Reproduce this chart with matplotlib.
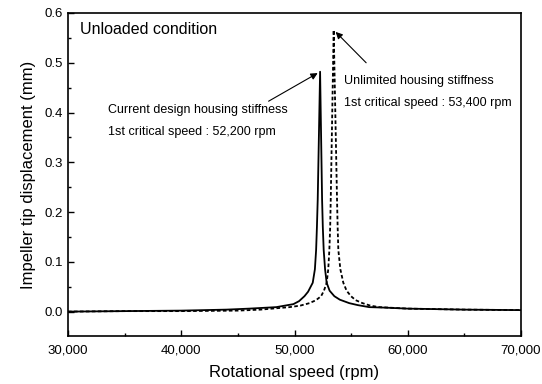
import matplotlib
matplotlib.use("Agg")
import matplotlib.pyplot as plt
from matplotlib.ticker import MultipleLocator, FuncFormatter

plt.rcParams['font.family'] = ['Liberation Sans', 'DejaVu Sans']

solid_rpm = [30000, 35000, 40000, 44000, 46000, 48390, 49900, 50400, 50880, 51200,
             51610, 51800, 51909, 51980, 52050, 52260, 52436, 52500, 52577, 52700,
             52840, 53100, 53518, 54000, 54837, 55600, 56600, 58000, 60000, 65000, 70000]
solid_disp = [0.000, 0.001, 0.002, 0.004, 0.006, 0.009, 0.015, 0.021, 0.031, 0.040,
              0.058, 0.085, 0.124, 0.170, 0.225, 0.482, 0.225, 0.170, 0.124, 0.085,
              0.058, 0.042, 0.031, 0.024, 0.017, 0.013, 0.009, 0.008, 0.006, 0.004, 0.003]

dashed_rpm = [30000, 35000, 40000, 45000, 47000, 49560, 50500, 51320, 51900, 52348,
              52600, 52840, 52980, 53078, 53150, 53200, 53460, 53755, 53810, 53870,
              54050, 54310, 54600, 54987, 55400, 56007, 56700, 57476, 60000, 65000, 70000]
dashed_disp = [0.000, 0.001, 0.001, 0.002, 0.004, 0.009, 0.012, 0.017, 0.023, 0.031,
               0.042, 0.058, 0.085, 0.124, 0.170, 0.225, 0.566, 0.225, 0.170, 0.124,
               0.085, 0.058, 0.042, 0.031, 0.023, 0.017, 0.012, 0.009, 0.006, 0.004, 0.003]

fig = plt.figure(figsize=(5.42, 3.84), dpi=100)
ax = fig.add_axes([68/542, 1-336/384, (521-68)/542, (336-13)/384])

ax.plot(solid_rpm, solid_disp, color='black', lw=1.3)
ax.plot(dashed_rpm, dashed_disp, color='black', lw=1.3, linestyle=(0, (2, 1.3)))

ax.set_xlim(30000, 70000)
ax.set_ylim(-0.049, 0.6)
ax.xaxis.set_major_locator(MultipleLocator(10000))
ax.xaxis.set_minor_locator(MultipleLocator(5000))
ax.yaxis.set_major_locator(MultipleLocator(0.1))
ax.yaxis.set_minor_locator(MultipleLocator(0.05))
ax.xaxis.set_major_formatter(FuncFormatter(lambda v, p: f"{int(v):,}"))
ax.yaxis.set_major_formatter(FuncFormatter(lambda v, p: f"{v:.1f}"))
ax.tick_params(which='both', direction='in', top=False, right=False, labelsize=9.5, colors='black')
ax.tick_params(which='major', length=4, width=1)
ax.tick_params(which='minor', length=2.5, width=1)
ax.tick_params(axis='x', pad=6)
for s in ax.spines.values():
    s.set_linewidth(1.2)

ax.set_xlabel('Rotational speed (rpm)', fontsize=12, labelpad=6)
ax.set_ylabel('Impeller tip displacement (mm)', fontsize=12, labelpad=6)

ax.text(0.027, 0.95, 'Unloaded condition', transform=ax.transAxes, fontsize=11.5,
        ha='left', va='center')

ax.annotate('', xy=(52260, 0.482), xytext=(47500, 0.42),
            arrowprops=dict(arrowstyle='-|>', color='black', lw=0.8, mutation_scale=10))
ax.annotate('', xy=(53460, 0.566), xytext=(56500, 0.496),
            arrowprops=dict(arrowstyle='-|>', color='black', lw=0.8, mutation_scale=10))

ax.text(33550, 0.406, 'Current design housing stiffness', fontsize=9, ha='left', va='center')
ax.text(33550, 0.360, '1st critical speed : 52,200 rpm', fontsize=9, ha='left', va='center')
ax.text(54400, 0.464, 'Unlimited housing stiffness', fontsize=9, ha='left', va='center')
ax.text(54400, 0.420, '1st critical speed : 53,400 rpm', fontsize=9, ha='left', va='center')

fig.savefig('out.png', dpi=100)
